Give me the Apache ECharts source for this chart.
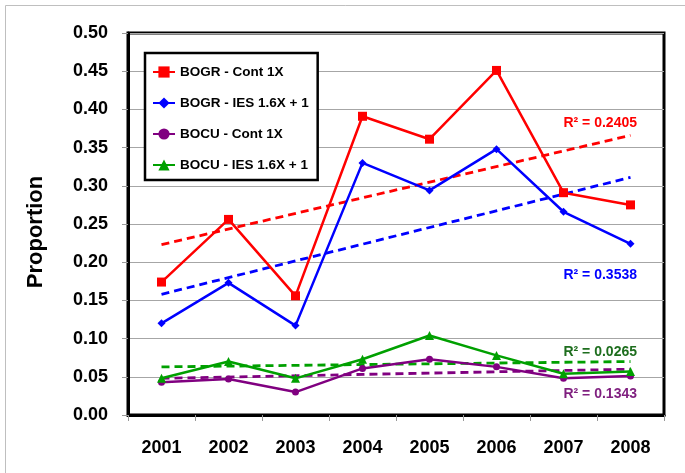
<!DOCTYPE html>
<html>
<head>
<meta charset="utf-8">
<script src="https://cdn.jsdelivr.net/npm/echarts@6/dist/echarts.min.js"></script>
<style>
  html, body { margin: 0; padding: 0; background: #fff; }
  #chart { width: 685px; height: 473px; }
</style>
</head>
<body>
<div id="chart"></div>
<script>
// Survey years
const years = ['2001', '2002', '2003', '2004', '2005', '2006', '2007', '2008'];

// Observed proportions per year
const bogrCont = [0.174, 0.256, 0.156, 0.391, 0.361, 0.451, 0.291, 0.275];
const bogrIes  = [0.120, 0.173, 0.117, 0.330, 0.294, 0.348, 0.266, 0.224];
const bocuCont = [0.043, 0.047, 0.030, 0.061, 0.073, 0.063, 0.048, 0.051];
const bocuIes  = [0.048, 0.070, 0.048, 0.073, 0.104, 0.078, 0.054, 0.057];

// Linear trend lines: value at first and last year
const trendBogrCont = [0.223, 0.366];
const trendBogrIes  = [0.158, 0.311];
const trendBocuCont = [0.048, 0.060];
const trendBocuIes  = [0.063, 0.070];

// Coefficient of determination for each trend
const r2BogrCont = '0.2405';
const r2BogrIes  = '0.3538';
const r2BocuIes  = '0.0265';
const r2BocuCont = '0.1343';

const names = ['BOGR - Cont 1X', 'BOGR - IES 1.6X + 1', 'BOCU - Cont 1X', 'BOCU - IES 1.6X + 1'];
const colors = ['#FF0000', '#0000FF', '#800080', '#00A000'];

const FONT = 'Liberation Sans';

function obsSeries(name, data, color, symbol, size) {
  return {
    name: name, type: 'line', data: data,
    symbol: symbol, symbolSize: size, showSymbol: true,
    itemStyle: { color: color },
    lineStyle: { color: color, width: 2.5 },
    z: 3
  };
}
function trendSeries(pair, color) {
  return {
    type: 'line',
    data: [[years[0], pair[0]], [years[years.length - 1], pair[1]]],
    symbol: 'none',
    lineStyle: { color: color, width: 2.8, type: [8, 5] },
    z: 2, silent: true
  };
}

const chart = echarts.init(document.getElementById('chart'), null, { renderer: 'canvas' });

chart.setOption({
  animation: false,
  backgroundColor: '#fff',
  grid: {
    left: 128, right: 21, top: 33, bottom: 58,
    show: true, borderColor: '#000', borderWidth: 3, backgroundColor: 'transparent'
  },
  legend: {
    data: names,
    orient: 'vertical',
    left: 145, top: 53,
    padding: [12, 9, 8, 7],
    itemGap: 17,
    itemWidth: 22, itemHeight: 14,
    borderColor: '#000', borderWidth: 2.5,
    backgroundColor: '#fff',
    textStyle: { fontFamily: FONT, fontWeight: 'bold', fontSize: 13.5, color: '#000' }
  },
  xAxis: {
    type: 'category', data: years, boundaryGap: true,
    axisLine: { show: true, lineStyle: { color: '#000', width: 3 } },
    axisTick: { show: true, length: 6, lineStyle: { color: '#999' } },
    axisLabel: { margin: 24, fontFamily: FONT, fontWeight: 'bold', fontSize: 18, color: '#000' },
    splitLine: { show: false }
  },
  yAxis: {
    type: 'value', min: 0, max: 0.5, interval: 0.05,
    name: 'Proportion', nameLocation: 'middle', nameGap: 81,
    nameTextStyle: { fontFamily: FONT, fontWeight: 'bold', fontSize: 22, color: '#000', padding: [0, 0, 0, -16] },
    axisLine: { show: true, lineStyle: { color: '#000', width: 3 } },
    axisTick: { show: true, length: 6, lineStyle: { color: '#999' } },
    axisLabel: { margin: 20, fontFamily: FONT, fontWeight: 'bold', fontSize: 18, color: '#000',
      formatter: v => v.toFixed(2) },
    splitLine: { show: true, lineStyle: { color: '#A6A6A6', width: 1 } }
  },
  series: [
    trendSeries(trendBogrCont, colors[0]),
    trendSeries(trendBogrIes, colors[1]),
    trendSeries(trendBocuCont, colors[2]),
    trendSeries(trendBocuIes, colors[3]),
    obsSeries(names[0], bogrCont, colors[0], 'rect', 9),
    obsSeries(names[1], bogrIes, colors[1], 'diamond', 8),
    obsSeries(names[2], bocuCont, colors[2], 'circle', 7),
    obsSeries(names[3], bocuIes, colors[3], 'triangle', 9)
  ],
  graphic: [
    { type: 'rect', silent: true, z: -10,
      shape: { x: 5.5, y: 5.5, width: 720, height: 520 },
      style: { fill: null, stroke: '#BFBFBF', lineWidth: 1 } },
    { type: 'text', right: 48, top: 116,
      style: { text: 'R² = ' + r2BogrCont, fill: '#FF0000', font: 'bold 14px "Liberation Sans"' } },
    { type: 'text', right: 48, top: 268,
      style: { text: 'R² = ' + r2BogrIes, fill: '#0000FF', font: 'bold 14px "Liberation Sans"' } },
    { type: 'text', right: 48, top: 345,
      style: { text: 'R² = ' + r2BocuIes, fill: '#1E6E1E', font: 'bold 14px "Liberation Sans"' } },
    { type: 'text', right: 48, top: 387,
      style: { text: 'R² = ' + r2BocuCont, fill: '#7F1F7F', font: 'bold 14px "Liberation Sans"' } }
  ]
});
</script>
</body>
</html>
